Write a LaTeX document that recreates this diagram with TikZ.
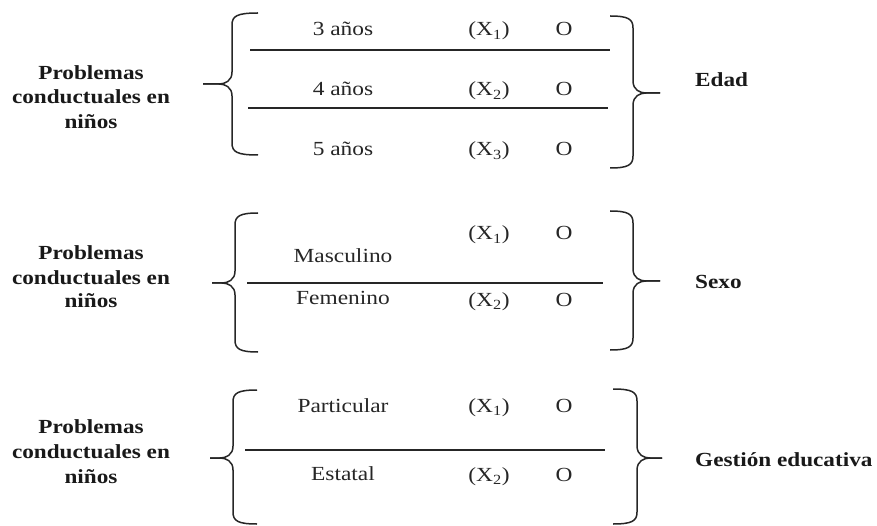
\documentclass[tikz,border=0pt]{standalone}
\usepackage{fontspec}
\setmainfont{Liberation Serif}
\newcommand\mybrace[7]{% #1 end x, #2 vertical x, #3 tip x, #4 top, #5 mid, #6 bottom, #7 sign
\draw[bracestyle] (#1,#4) .. controls ({#2+#7*5},#4) and (#2,{#4+3}) .. (#2,{#4+12}) -- (#2,{#5-12}) .. controls (#2,{#5-3}) and ({#2-#7*7},#5) .. ({#2-#7*13},#5) -- (#3,#5);
\draw[bracestyle] (#3,#5) -- ({#2-#7*13},#5) .. controls ({#2-#7*7},#5) and (#2,{#5+3}) .. (#2,{#5+12}) -- (#2,{#6-12}) .. controls (#2,{#6-3}) and ({#2+#7*5},#6) .. (#1,#6);
}
\begin{document}
\begin{tikzpicture}[x=1pt,y=-1pt,
  bracestyle/.style={line width=1.5pt,draw=black!85,line join=round},
  sep/.style={line width=1.4pt,draw=black!85},
  txt/.style={font=\fontsize{20}{22}\selectfont,xscale=1.17,inner sep=0pt,anchor=base,text=black!85},
  lbl/.style={font=\bfseries\fontsize{20}{22}\selectfont,xscale=1.16,anchor=base,inner sep=0pt,text=black!90},
  rlbl/.style={lbl,anchor=base west}]
\useasboundingbox (0,0) rectangle (877,526);

% ---------- Block 1: Edad ----------
\node[lbl] (l1a) at (91,80) {Problemas};
\node[lbl] (l1b) at (91,104) {conductuales en};
\node[lbl] (l1c) at (91,129) {niños};
\mybrace{258}{232}{203}{13}{84}{155}{1}
\draw[sep] (250,50) -- (610,50);
\draw[sep] (248,108) -- (608,108);
\node[txt] (a3) at (343,36) {3 años};
\node[txt] (a4) at (343,96) {4 años};
\node[txt] (a5) at (343,156) {5 años};
\node[txt] (x11) at (489,36) {(X\textsubscript{1})};
\node[txt] (x12) at (489,96) {(X\textsubscript{2})};
\node[txt] (x13) at (489,156) {(X\textsubscript{3})};
\node[txt] (o11) at (564,36) {O};
\node[txt] (o12) at (564,96) {O};
\node[txt] (o13) at (564,156) {O};
\mybrace{610}{633}{660}{16}{93}{168}{-1}
\node[rlbl] (r1) at (695,87) {Edad};

% ---------- Block 2: Sexo ----------
\node[lbl] (l2a) at (91,260) {Problemas};
\node[lbl] (l2b) at (91,284) {conductuales en};
\node[lbl] (l2c) at (91,308) {niños};
\mybrace{258}{235}{212}{213}{283}{352}{1}
\draw[sep] (247,283) -- (603,283);
\node[txt] (m) at (343,263) {Masculino};
\node[txt] (f) at (343,305) {Femenino};
\node[txt] (x21) at (489,240) {(X\textsubscript{1})};
\node[txt] (x22) at (489,306) {(X\textsubscript{2})};
\node[txt] (o21) at (564,240) {O};
\node[txt] (o22) at (564,306) {O};
\mybrace{610}{633}{660}{211}{281}{350}{-1}
\node[rlbl] (r2) at (695,289) {Sexo};

% ---------- Block 3: Gestión educativa ----------
\node[lbl] (l3a) at (91,433) {Problemas};
\node[lbl] (l3b) at (91,458) {conductuales en};
\node[lbl] (l3c) at (91,483) {niños};
\mybrace{257}{233}{210}{390}{458}{524}{1}
\draw[sep] (245,450) -- (605,450);
\node[txt] (p) at (343,412) {Particular};
\node[txt] (e) at (343,480) {Estatal};
\node[txt] (x31) at (489,412) {(X\textsubscript{1})};
\node[txt] (x32) at (489,481) {(X\textsubscript{2})};
\node[txt] (o31) at (564,412) {O};
\node[txt] (o32) at (564,481) {O};
\mybrace{613}{637}{662}{389}{458}{524}{-1}
\node[rlbl] (r3) at (695,466) {Gestión educativa};
\end{tikzpicture}
\end{document}
